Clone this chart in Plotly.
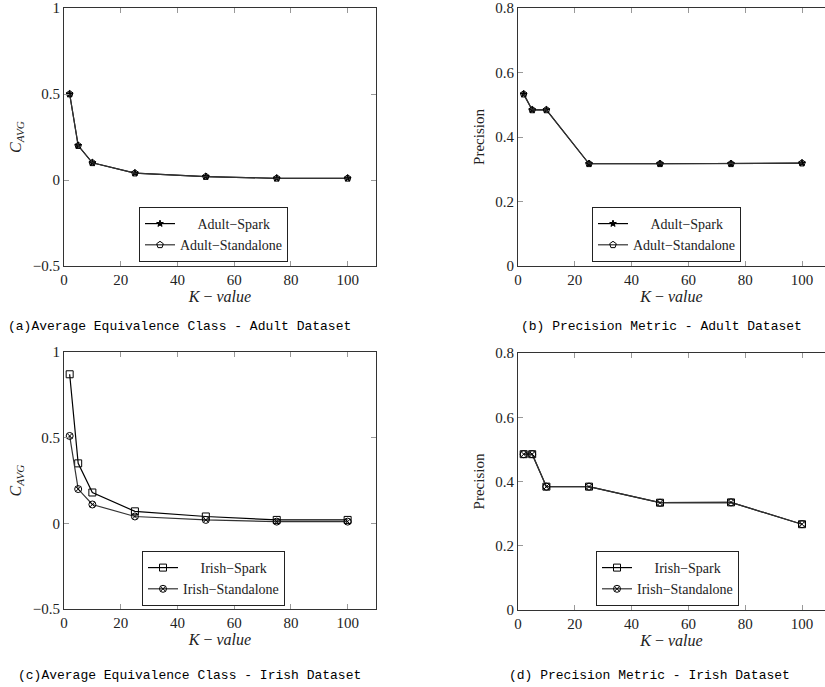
import plotly.graph_objects as go

k_values = [2, 5, 10, 25, 50, 75, 100]

adult_cavg_spark = [0.5, 0.2, 0.1, 0.04, 0.02, 0.01, 0.01]
adult_cavg_standalone = [0.5, 0.2, 0.1, 0.04, 0.02, 0.01, 0.01]

adult_prec_spark = [0.533, 0.484, 0.484, 0.317, 0.317, 0.317, 0.319]
adult_prec_standalone = [0.533, 0.484, 0.484, 0.317, 0.317, 0.317, 0.319]

irish_cavg_spark = [0.87, 0.35, 0.18, 0.07, 0.04, 0.02, 0.02]
irish_cavg_standalone = [0.51, 0.20, 0.11, 0.04, 0.02, 0.01, 0.01]

irish_prec_spark = [0.485, 0.485, 0.384, 0.384, 0.334, 0.335, 0.267]
irish_prec_standalone = [0.485, 0.485, 0.384, 0.384, 0.334, 0.335, 0.267]

x_ticks = [0, 20, 40, 60, 80, 100]
cavg_ticks = [-0.5, 0, 0.5, 1]
cavg_tick_text = ["\u22120.5", "0", "0.5", "1"]
prec_ticks = [0, 0.2, 0.4, 0.6, 0.8]
prec_tick_text = ["0", "0.2", "0.4", "0.6", "0.8"]

captions = [
    "(a)Average Equivalence Class - Adult Dataset",
    "(b) Precision Metric - Adult Dataset",
    "(c)Average Equivalence Class - Irish Dataset",
    "(d) Precision Metric - Irish Dataset",
]

W, H = 825, 687
SERIF = "Liberation Serif, Times New Roman, Times, serif"
CAP_FONT = "Liberation Mono, Courier New, monospace"
TXT = "#222222"
PAD = "\u00a0" * 5


def px_x(p):
    return p / W


def px_y(p):
    return 1 - p / H


fig = go.Figure()

panels = [
    ("x", "y", "legend",
     [adult_cavg_spark, adult_cavg_standalone],
     [("star", 5), ("pentagon-open", 7)],
     [PAD + "Adult\u2212Spark", "Adult\u2212Standalone"]),
    ("x2", "y2", "legend2",
     [adult_prec_spark, adult_prec_standalone],
     [("star", 5), ("pentagon-open", 7)],
     [PAD + "Adult\u2212Spark", "Adult\u2212Standalone"]),
    ("x3", "y3", "legend3",
     [irish_cavg_spark, irish_cavg_standalone],
     [("square-open", 7), ("circle-x-open", 7)],
     [PAD + "Irish\u2212Spark", "Irish\u2212Standalone"]),
    ("x4", "y4", "legend4",
     [irish_prec_spark, irish_prec_standalone],
     [("square-open", 7), ("circle-x-open", 7)],
     [PAD + "Irish\u2212Spark", "Irish\u2212Standalone"]),
]

line_colors = ["#000000", "#333333"]

for xa, ya, lg, series, markers, names in panels:
    for i, (vals, (sym, sz), nm) in enumerate(zip(series, markers, names)):
        fig.add_trace(go.Scatter(
            x=k_values, y=vals, mode="lines+markers", name=nm,
            xaxis=xa, yaxis=ya, legend=lg,
            line=dict(color=line_colors[i], width=1.2),
            marker=dict(symbol=sym, size=sz, color="black",
                        line=dict(color="black", width=1)),
        ))

axis_common = dict(
    showgrid=False, zeroline=False, showline=True, linecolor="#333333",
    linewidth=1, ticks="inside", ticklen=5, tickwidth=1, tickcolor="#999999",
    tickfont=dict(family=SERIF, size=15, color=TXT), automargin=False,
)

xtitle = dict(text="<i>K</i> \u2212 <i>value</i>",
              font=dict(family=SERIF, size=16, color=TXT), standoff=3)
cavg_title = dict(text="<i>C</i><sub><i>AVG</i></sub>",
                  font=dict(family=SERIF, size=16, color=TXT), standoff=7)
prec_title = dict(text="Precision",
                  font=dict(family=SERIF, size=15, color=TXT), standoff=7)

left_x = [px_x(64), px_x(376)]
right_x = [px_x(518), 1.0]
right_range = [0, (825 - 518) / 2.84]
top_y = [px_y(266), px_y(8)]
bot_y_c = [px_y(609), px_y(352)]
bot_y_d = [px_y(610), px_y(353)]

fig.update_layout(
    xaxis=dict(domain=left_x, range=[0, 110], tickvals=x_ticks, mirror="ticks",
               anchor="y", title=xtitle, **axis_common),
    yaxis=dict(domain=top_y, range=[-0.5, 1], tickvals=cavg_ticks,
               ticktext=cavg_tick_text, mirror="ticks", anchor="x",
               title=cavg_title, **axis_common),
    xaxis2=dict(domain=right_x, range=right_range, tickvals=x_ticks,
                mirror="ticks", anchor="y2", title=xtitle, **axis_common),
    yaxis2=dict(domain=top_y, range=[0, 0.8], tickvals=prec_ticks,
                ticktext=prec_tick_text, mirror=False, anchor="x2",
                title=prec_title, **axis_common),
    xaxis3=dict(domain=left_x, range=[0, 110], tickvals=x_ticks, mirror="ticks",
                anchor="y3", title=xtitle, **axis_common),
    yaxis3=dict(domain=bot_y_c, range=[-0.5, 1], tickvals=cavg_ticks,
                ticktext=cavg_tick_text, mirror="ticks", anchor="x3",
                title=cavg_title, **axis_common),
    xaxis4=dict(domain=right_x, range=right_range, tickvals=x_ticks,
                mirror="ticks", anchor="y4", title=xtitle, **axis_common),
    yaxis4=dict(domain=bot_y_d, range=[0, 0.8], tickvals=prec_ticks,
                ticktext=prec_tick_text, mirror=False, anchor="x4",
                title=prec_title, **axis_common),
    width=W, height=H,
    margin=dict(l=0, r=0, t=0, b=0, autoexpand=False),
    paper_bgcolor="white", plot_bgcolor="white",
    showlegend=True,
    font=dict(family=SERIF, color=TXT),
)

legend_common = dict(
    bgcolor="white", bordercolor="#222222", borderwidth=1,
    font=dict(family=SERIF, size=14, color=TXT),
    xanchor="left", yanchor="bottom", itemwidth=30, tracegroupgap=0,
)
fig.update_layout(
    legend=dict(x=px_x(139), y=px_y(262), **legend_common),
    legend2=dict(x=px_x(592), y=px_y(262), **legend_common),
    legend3=dict(x=px_x(142), y=px_y(606), **legend_common),
    legend4=dict(x=px_x(596), y=px_y(606), **legend_common),
)

caption_pos = [(179, 326), (661, 326), (189, 675), (649, 675)]
for text, (cx, cy) in zip(captions, caption_pos):
    fig.add_annotation(
        text=text, x=px_x(cx), y=px_y(cy), xref="paper", yref="paper",
        xanchor="center", yanchor="middle", showarrow=False,
        font=dict(family=CAP_FONT, size=13, color="#000000"),
    )

fig.write_html(
    "out.html",
    config={"displayModeBar": False},
    post_script="document.body.style.margin='0';document.body.style.overflow='hidden';",
)
